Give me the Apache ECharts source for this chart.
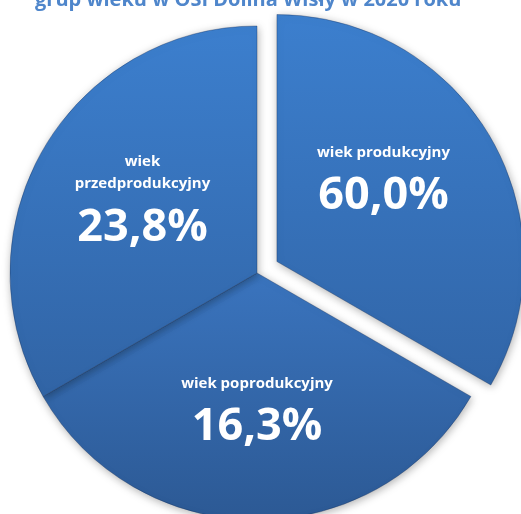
<!DOCTYPE html>
<html>
<head>
<meta charset="utf-8">
<script src="https://cdn.jsdelivr.net/npm/echarts@6/dist/echarts.min.js"></script>
<style>
html,body{margin:0;padding:0;background:#fff;}
#chart{width:521px;height:514px;}
</style>
</head>
<body>
<div id="chart"></div>
<script>
// Data
const titleText = 'grup wieku w OSI Dolina Wisły w 2020 roku';
const categories = ['wiek produkcyjny', 'wiek poprodukcyjny', 'wiek przedprodukcyjny'];
const labelLines = [['wiek produkcyjny'], ['wiek poprodukcyjny'], ['wiek', 'przedprodukcyjny']];
const percentValues = [60.0, 16.3, 23.8];
// the reference draws the three slices as equal thirds (120° each)
const sliceShares = [1, 1, 1];

const gradients = [
  ['#3c7fce', '#3165a7'],
  ['#3a74be', '#2c5994'],
  ['#3c7fce', '#3164a5']
];
const labelShift = [[-3, -13], [0, 17], [-5, -4]];

function fmtPct(v) { return v.toFixed(1).replace('.', ',') + '%'; }

const seriesData = categories.map((c, i) => ({
  name: c,
  value: sliceShares[i],
  selected: i === 0,
  itemStyle: {
    color: {
      type: 'linear', x: 0, y: 0, x2: 0, y2: 1,
      colorStops: [{offset: 0, color: gradients[i][0]}, {offset: 1, color: gradients[i][1]}]
    }
  }
}));

const chart = echarts.init(document.getElementById('chart'), null, {renderer: 'canvas'});
chart.setOption({
  animation: false,
  backgroundColor: '#ffffff',
  title: {
    text: titleText,
    left: 30,
    top: -15,
    textStyle: {fontFamily: 'Open Sans', fontWeight: 'bold', fontSize: 20, color: '#4f86cb'}
  },
  series: [{
    type: 'pie',
    center: [257, 273],
    radius: 247,
    startAngle: 90,
    clockwise: true,
    selectedMode: 'single',
    selectedOffset: 23,
    silent: true,
    itemStyle: {
      borderColor: 'rgba(20,45,90,0.35)',
      borderWidth: 1,
      shadowBlur: 8,
      shadowColor: 'rgba(0,0,0,0.3)',
      shadowOffsetX: 1,
      shadowOffsetY: 2
    },
    label: {
      show: true,
      position: 'inside',
      color: '#ffffff',
      formatter: p => labelLines[p.dataIndex].map(t => '{n|' + t + '}').join('\n') + '\n{p|' + fmtPct(percentValues[p.dataIndex]) + '}',
      rich: {
        n: {fontFamily: 'Open Sans', fontWeight: 'bold', fontSize: 15, lineHeight: 22, color: '#fff'},
        p: {fontFamily: 'Open Sans', fontWeight: 'bold', fontSize: 45, lineHeight: 66, color: '#fff'}
      }
    },
    labelLine: {show: false},
    labelLayout: params => ({dx: labelShift[params.dataIndex][0], dy: labelShift[params.dataIndex][1]}),
    data: seriesData
  }]
});
</script>
</body>
</html>
